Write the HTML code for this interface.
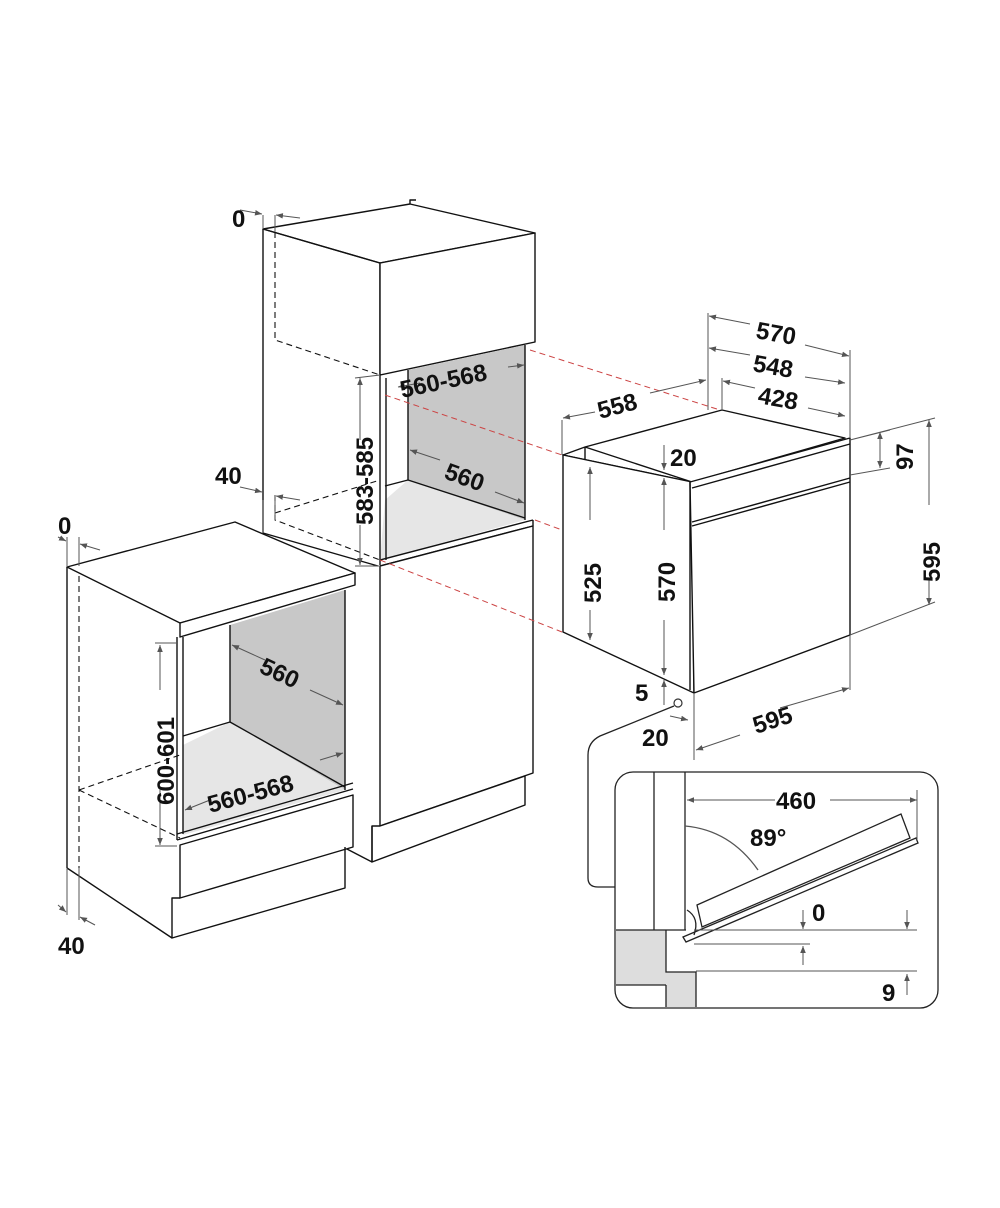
<!DOCTYPE html>
<html><head><meta charset="utf-8"><style>
html,body{margin:0;padding:0;background:#fff}
svg{display:block}
text{font-family:"Liberation Sans",sans-serif;font-weight:bold;fill:#111}
</style></head><body>
<svg width="1000" height="1208" viewBox="0 0 1000 1208" xmlns="http://www.w3.org/2000/svg">
<defs>
<marker id="a" viewBox="0 0 10 10" refX="10" refY="5" markerWidth="7" markerHeight="7" orient="auto-start-reverse"><path d="M0,1 L10,5 L0,9 z" fill="#555"/></marker>
</defs>
<g stroke="#111" stroke-width="1.4" fill="none" stroke-linejoin="round">
<polygon points="263,229 410,204 535,233 380,263" fill="#fff"/>
<path d="M410,204 l0,-4 l6,0"/>
<path d="M263,229 L380,263 L380,375"/>
<polygon points="380,263 535,233 535,342 380,375" fill="#fff"/>
<line x1="263" y1="229" x2="263" y2="533"/>
<line x1="263" y1="533" x2="378" y2="566"/>
<polygon points="408,370 525,345 525,520 408,480" fill="#c8c8c8" stroke="none"/>
<polygon points="408,480 525,520 380,560 385,500" fill="#e6e6e6" stroke="none"/>
<line x1="408" y1="370" x2="408" y2="480"/>
<line x1="408" y1="480" x2="525" y2="518"/>
<line x1="408" y1="480" x2="385" y2="486"/>
<line x1="525" y1="345" x2="525" y2="520"/>
<line x1="380" y1="375" x2="380" y2="565"/>
<line x1="386" y1="378" x2="386" y2="560"/>
<path d="M380,560 L533,520 M380,566 L533,526 M533,520 L533,526"/>
<polygon points="380,566 533,526 533,773 380,826" fill="#fff"/>
<polygon points="372,826 380,826 525,776 525,805 372,862" fill="#fff"/>
<line x1="345" y1="848" x2="372" y2="862"/>
<line x1="372" y1="826" x2="372" y2="862"/>
<g stroke-dasharray="6,4" stroke-width="1.1">
<path d="M275,232 L275,340 L380,375"/>
<path d="M275,495 L275,520 L380,560 M275,513 L380,480"/>
<path d="M79,566 L79,868 M79,790 L180,755 M79,790 L180,838"/>
</g>
<polygon points="67,567 235,522 355,573 180,623" fill="#fff"/>
<polygon points="180,623 355,573 355,585 180,637" fill="#fff"/>
<line x1="67" y1="567" x2="67" y2="868"/>
<polygon points="230,625 345,590 345,790 230,722" fill="#c8c8c8" stroke="none"/>
<polygon points="230,722 345,790 183,835 183,745" fill="#e6e6e6" stroke="none"/>
<line x1="230" y1="625" x2="230" y2="722"/>
<line x1="230" y1="722" x2="345" y2="787"/>
<line x1="230" y1="722" x2="183" y2="736"/>
<line x1="345" y1="590" x2="345" y2="790"/>
<line x1="177" y1="637" x2="177" y2="840"/>
<line x1="183" y1="637" x2="183" y2="834"/>
<path d="M177,834 L353,783 M177,840 L353,789"/>
<polygon points="180,845 353,795 353,847 180,898" fill="#fff"/>
<path d="M67,868 L172,938 L345,888 L345,847 M172,938 L172,898 L180,898"/>
<polygon points="563,455 585,447 722,410 845,438 692,482" fill="#fff"/>
<path d="M585,447 L585,460 L563,455"/>
<line x1="585" y1="447" x2="692" y2="482"/>
<polygon points="563,455 692,482 694,693 563,632" fill="#fff"/>
<polygon points="690,482 850,438 850,635 694,693" fill="#fff"/>
<path d="M690,482 L690,690 M692,522 L850,478 M692,526 L850,482 M692,488 L850,444"/>
</g>
<g stroke="#c44" stroke-width="1" stroke-dasharray="6,4" fill="none">
<path d="M530,350 L720,410 M385,395 L562,455 M535,520 L562,530 M380,560 L562,632"/>
</g>
<g stroke="#555" stroke-width="1" fill="none">
<path d="M263,215 L263,229 M275,215 L275,232 M240,210 L262,214" marker-end="url(#a)"/>
<path d="M300,218 L276,215" marker-end="url(#a)"/>
<path d="M240,487 L262,492" marker-end="url(#a)"/>
<path d="M300,500 L276,496" marker-end="url(#a)"/>
<path d="M263,500 L263,533 M275,495 L275,520"/>
<path d="M67,537 L67,567 M79,537 L79,566"/>
<path d="M58,537 L66,541" marker-end="url(#a)"/>
<path d="M100,550 L80,544" marker-end="url(#a)"/>
<path d="M67,868 L67,915 M79,868 L79,920"/>
<path d="M58,905 L66,912" marker-end="url(#a)"/>
<path d="M95,925 L80,917" marker-end="url(#a)"/>
<path d="M360,440 L360,378" marker-end="url(#a)"/>
<path d="M360,525 L360,565" marker-end="url(#a)"/>
<path d="M355,378 L380,375 M355,566 L380,566"/>
<path d="M420,383 L398,387" marker-end="url(#a)"/>
<path d="M508,367 L524,365" marker-end="url(#a)"/>
<path d="M440,460 L410,450" marker-end="url(#a)"/>
<path d="M495,492 L524,503" marker-end="url(#a)"/>
<path d="M160,690 L160,645" marker-end="url(#a)"/>
<path d="M160,790 L160,845" marker-end="url(#a)"/>
<path d="M155,643 L177,643 M155,846 L177,846"/>
<path d="M265,660 L232,645" marker-end="url(#a)"/>
<path d="M310,690 L343,705" marker-end="url(#a)"/>
<path d="M210,800 L185,810" marker-end="url(#a)"/>
<path d="M320,760 L343,753" marker-end="url(#a)"/>
<path d="M708,313 L708,410 M850,350 L850,438 M722,378 L722,410"/>
<path d="M750,324 L709,316" marker-end="url(#a)"/>
<path d="M805,345 L849,356" marker-end="url(#a)"/>
<path d="M750,355 L709,348" marker-end="url(#a)"/>
<path d="M805,377 L845,383" marker-end="url(#a)"/>
<path d="M755,388 L723,381" marker-end="url(#a)"/>
<path d="M808,408 L845,416" marker-end="url(#a)"/>
<path d="M562,420 L562,455"/>
<path d="M595,412 L563,418" marker-end="url(#a)"/>
<path d="M650,393 L706,380" marker-end="url(#a)"/>
<path d="M590,520 L590,467" marker-end="url(#a)"/>
<path d="M590,610 L590,640" marker-end="url(#a)"/>
<path d="M664,445 L664,470" marker-end="url(#a)"/>
<path d="M664,530 L664,478" marker-end="url(#a)"/>
<path d="M664,620 L664,675" marker-end="url(#a)"/>
<path d="M664,705 L664,680" marker-end="url(#a)"/>
<path d="M850,440 L890,430 M850,475 L890,468 M850,635 L935,602 M850,440 L935,418"/>
<path d="M880,455 L880,432" marker-end="url(#a)"/>
<path d="M880,455 L880,468" marker-end="url(#a)"/>
<path d="M929,505 L929,420" marker-end="url(#a)"/>
<path d="M929,580 L929,605" marker-end="url(#a)"/>
<path d="M694,693 L694,760 M850,635 L850,690"/>
<path d="M780,708 L849,688" marker-end="url(#a)"/>
<path d="M740,735 L696,750" marker-end="url(#a)"/>
<path d="M670,716 L688,720" marker-end="url(#a)"/>
</g>
<circle cx="678" cy="703" r="4" fill="#fff" stroke="#333" stroke-width="1.2"/>
<g stroke="#222" stroke-width="1.3" fill="none">
<path d="M674,706 L600,736 Q588,742 588,755 L588,878 Q588,887 598,887 L615,887"/>
<rect x="615" y="772" width="323" height="236" rx="18" fill="#fff"/>
<path d="M616,930 L666,930 L666,972 L696,972 L696,1007 L666,1007 L666,985 L616,985 Z" fill="#ddd" stroke="none"/>
<path d="M616,930 L686,930 M666,930 L666,972 L696,972 L696,1007 M666,985 L666,1007 M616,985 L666,985 M654,772 L654,930 M685,772 L685,930"/>
<polygon points="697,905 901,814 910,838 702,927" fill="#fff"/>
<polygon points="683,937 916,838 918,843 686,942" fill="#fff"/>
<path d="M687,910 Q700,918 694,935"/>
<path d="M685,826 Q730,830 758,870" stroke="#555"/>
</g>
<g stroke="#555" stroke-width="1" fill="none">
<path d="M775,800 L687,800" marker-end="url(#a)"/>
<path d="M830,800 L917,800" marker-end="url(#a)"/>
<path d="M917,790 L917,840 M694,930 L917,930 M694,944 L810,944 M696,971 L917,971"/>
<path d="M803,910 L803,929" marker-end="url(#a)"/>
<path d="M803,965 L803,946" marker-end="url(#a)"/>
<path d="M907,910 L907,929" marker-end="url(#a)"/>
<path d="M907,995 L907,974" marker-end="url(#a)"/>
</g>
<g font-size="24">
<text x="232" y="227">0</text>
<text x="215" y="484">40</text>
<text x="58" y="534">0</text>
<text x="58" y="954">40</text>
<text transform="translate(373,525) rotate(-90)">583-585</text>
<text transform="translate(402,398) rotate(-12)">560-568</text>
<text transform="translate(443,478) rotate(20)">560</text>
<text transform="translate(174,805) rotate(-90)">600-601</text>
<text transform="translate(258,672) rotate(25)">560</text>
<text transform="translate(210,813) rotate(-15)">560-568</text>
<text transform="translate(755,338) rotate(10)">570</text>
<text transform="translate(752,371) rotate(10)">548</text>
<text transform="translate(757,403) rotate(10)">428</text>
<text transform="translate(600,419) rotate(-15)">558</text>
<text x="670" y="466">20</text>
<text transform="translate(913,470) rotate(-90)">97</text>
<text transform="translate(601,603) rotate(-90)">525</text>
<text transform="translate(675,602) rotate(-90)">570</text>
<text transform="translate(940,582) rotate(-90)">595</text>
<text x="635" y="701">5</text>
<text x="642" y="746">20</text>
<text transform="translate(756,734) rotate(-18)">595</text>
<text x="776" y="809">460</text>
<text x="750" y="846">89°</text>
<text x="812" y="921">0</text>
<text x="882" y="1001">9</text>
</g>
</svg>
</body></html>
